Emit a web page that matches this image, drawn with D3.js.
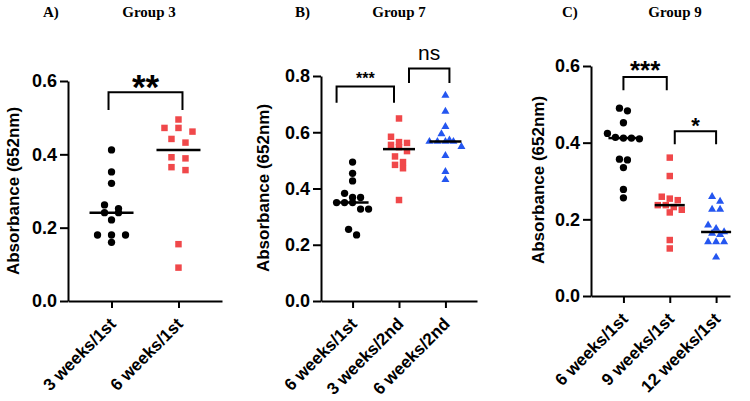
<!DOCTYPE html>
<html>
<head>
<meta charset="utf-8">
<script src="https://cdn.jsdelivr.net/npm/d3@7"></script>
<style>
  body { margin: 0; background: #fff; }
  svg { display: block; }
</style>
</head>
<body>
<div id="chart"></div>
<script>
// ---- data ----
// Panel A, Group 3
let groupsA = ["3 weeks/1st", "6 weeks/1st"];
let ticksA = [0.0, 0.2, 0.4, 0.6];
let a_3wk1st = [0.412, 0.352, 0.321, 0.262, 0.252, 0.241, 0.241, 0.221, 0.180, 0.180, 0.180, 0.160];
let a_6wk1st = [0.495, 0.472, 0.472, 0.462, 0.442, 0.432, 0.392, 0.389, 0.365, 0.357, 0.155, 0.091];

// Panel B, Group 7
let groupsB = ["6 weeks/1st", "3 weeks/2nd", "6 weeks/2nd"];
let ticksB = [0.0, 0.2, 0.4, 0.6, 0.8];
let b_6wk1st = [0.494, 0.454, 0.427, 0.383, 0.368, 0.368, 0.350, 0.350, 0.350, 0.327, 0.327, 0.255, 0.235];
let b_3wk2nd = [0.649, 0.584, 0.565, 0.562, 0.555, 0.547, 0.533, 0.514, 0.494, 0.484, 0.472, 0.359];
let b_6wk2nd = [0.731, 0.674, 0.620, 0.594, 0.572, 0.567, 0.567, 0.567, 0.567, 0.549, 0.517, 0.460, 0.431];

// Panel C, Group 9
let groupsC = ["6 weeks/1st", "9 weeks/1st", "12 weeks/1st"];
let ticksC = [0.0, 0.2, 0.4, 0.6];
let c_6wk1st = [0.490, 0.483, 0.452, 0.424, 0.414, 0.412, 0.412, 0.410, 0.357, 0.355, 0.335, 0.278, 0.256];
let c_9wk1st = [0.361, 0.313, 0.259, 0.254, 0.250, 0.237, 0.237, 0.232, 0.225, 0.218, 0.146, 0.124];
let c_12wk1st = [0.259, 0.247, 0.226, 0.226, 0.185, 0.176, 0.167, 0.163, 0.160, 0.141, 0.141, 0.141, 0.101];

// significance labels
let sigA = ["**"];
let sigB = ["***", "ns"];
let sigC = ["***", "*"];

let black = "#000", red = "#f0484a", blue = "#2456f0";

let panels = [
  {
    tag: "A)", tagX: 43, name: "Group 3", nameX: 149,
    cats: groupsA, series: [a_3wk1st, a_6wk1st],
    shapes: [d3.symbolCircle, d3.symbolSquare], colors: [black, red],
    ticks: ticksA, yMax: 0.6, left: 68, right: 222, top: 81, bottom: 301,
    padding: 0.65, align: 0.5, step: 14, medHalf: 22, labelX: 19, labelY: 191,
    brackets: [{a: 0, b: 1, top: 0.569, low: 0.521, dx: [-3, 4], text: sigA[0], fs: 35, weight: "bold", dy: 6.5}]
  },
  {
    tag: "B)", tagX: 295, name: "Group 7", nameX: 399,
    cats: groupsB, series: [b_6wk1st, b_3wk2nd, b_6wk2nd],
    shapes: [d3.symbolCircle, d3.symbolSquare, d3.symbolTriangle], colors: [black, red, blue],
    ticks: ticksB, yMax: 0.8, left: 321, right: 477, top: 76, bottom: 301,
    padding: 0.68, align: 0.5, step: 8, medHalf: 16, labelX: 269, labelY: 188,
    brackets: [
      {a: 0, b: 1, top: 0.763, low: 0.705, dx: [-16, -5], text: sigB[0], fs: 16, weight: "bold", dy: -2},
      {a: 1, b: 2, top: 0.827, low: 0.775, dx: [10, 4], text: sigB[1], fs: 21, weight: "normal", dy: -8.5}
    ]
  },
  {
    tag: "C)", tagX: 562, name: "Group 9", nameX: 675,
    cats: groupsC, series: [c_6wk1st, c_9wk1st, c_12wk1st],
    shapes: [d3.symbolCircle, d3.symbolSquare, d3.symbolTriangle], colors: [black, red, blue],
    ticks: ticksC, yMax: 0.6, left: 591, right: 730, top: 66, bottom: 296,
    padding: 0.5, align: 0.7, step: 8, medHalf: 15, labelX: 544, labelY: 180,
    brackets: [
      {a: 0, b: 1, top: 0.571, low: 0.537, dx: [0, -3], text: sigC[0], fs: 26, weight: "bold", dy: 2},
      {a: 1, b: 2, top: 0.430, low: 0.396, dx: [5, 0], text: sigC[1], fs: 22, weight: "bold", dy: 2}
    ]
  }
];

let svg = d3.select("#chart").append("svg")
  .attr("width", 750)
  .attr("height", 401);

// spread points that share a row sideways, like a scatter dot plot
function spread(values, y, step, gap) {
  let pts = values.map(function(v) { return {v: v, py: y(v)}; })
    .sort(function(a, b) { return a.py - b.py; });
  let rows = [], cur = null;
  pts.forEach(function(p) {
    if (!cur || p.py - cur[0].py >= gap) { cur = [p]; rows.push(cur); }
    else cur.push(p);
  });
  rows.forEach(function(r) {
    r.forEach(function(p, i) { p.dx = (i - (r.length - 1) / 2) * step; });
  });
  return pts;
}

function drawPanel(p) {
  let g = svg.append("g");

  let y = d3.scaleLinear().domain([0, p.yMax]).range([p.bottom, p.top]);
  let x = d3.scalePoint().domain(p.cats).range([p.left, p.right])
    .padding(p.padding).align(p.align);

  // titles
  g.append("text").attr("x", p.tagX).attr("y", 17)
    .attr("font-family", "Liberation Serif, Times New Roman, serif")
    .attr("font-weight", "bold").attr("font-size", 15).text(p.tag);
  g.append("text").attr("x", p.nameX).attr("y", 17)
    .attr("text-anchor", "middle")
    .attr("font-family", "Liberation Serif, Times New Roman, serif")
    .attr("font-weight", "bold").attr("font-size", 15).text(p.name);

  // y axis
  let yAxis = g.append("g")
    .attr("transform", "translate(" + p.left + ",0)")
    .call(d3.axisLeft(y).tickValues(p.ticks).tickFormat(d3.format(".1f"))
      .tickSize(8).tickSizeOuter(0).tickPadding(3));
  yAxis.selectAll("path, line").attr("stroke", "#000").attr("stroke-width", 2);
  yAxis.selectAll("text")
    .attr("font-family", "Liberation Sans, Arial, sans-serif")
    .attr("font-weight", "bold").attr("font-size", 18).attr("fill", "#000");

  // x axis
  let xAxis = g.append("g")
    .attr("transform", "translate(0," + p.bottom + ")")
    .call(d3.axisBottom(x).tickSize(7).tickSizeOuter(0));
  xAxis.selectAll("path, line").attr("stroke", "#000").attr("stroke-width", 2);
  xAxis.selectAll("text")
    .attr("x", 0).attr("y", 0).attr("dy", 0)
    .attr("transform", "translate(5,24) rotate(-45)")
    .attr("text-anchor", "end")
    .attr("font-family", "Liberation Sans, Arial, sans-serif")
    .attr("font-weight", "bold").attr("font-size", 17).attr("fill", "#000");

  // axis title
  g.append("text")
    .attr("transform", "translate(" + p.labelX + "," + p.labelY + ") rotate(-90)")
    .attr("text-anchor", "middle")
    .attr("font-family", "Liberation Sans, Arial, sans-serif")
    .attr("font-weight", "bold").attr("font-size", 17)
    .text("Absorbance (652nm)");

  // points and medians
  p.series.forEach(function(vals, i) {
    let cx = x(p.cats[i]);
    let pts = spread(vals, y, p.step, 7);
    g.selectAll(null).data(pts).enter().append("path")
      .attr("d", d3.symbol().type(p.shapes[i]).size(p.shapes[i] === d3.symbolTriangle ? 28 : 42))
      .attr("transform", function(d) { return "translate(" + (cx + d.dx) + "," + d.py + ")"; })
      .attr("fill", p.colors[i]);

    let med = d3.median(vals);
    g.append("line")
      .attr("x1", cx - p.medHalf).attr("x2", cx + p.medHalf)
      .attr("y1", y(med)).attr("y2", y(med))
      .attr("stroke", "#000").attr("stroke-width", 2.5);
  });

  // significance brackets
  p.brackets.forEach(function(b) {
    let x0 = x(p.cats[b.a]) + b.dx[0], x1 = x(p.cats[b.b]) + b.dx[1];
    let yt = y(b.top), yl = y(b.low);
    g.append("path")
      .attr("d", "M" + x0 + "," + yl + "V" + yt + "H" + x1 + "V" + yl)
      .attr("fill", "none").attr("stroke", "#000").attr("stroke-width", 2);
    g.append("text")
      .attr("x", (x0 + x1) / 2).attr("y", yt + b.dy)
      .attr("text-anchor", "middle")
      .attr("font-family", "Liberation Sans, Arial, sans-serif")
      .attr("font-weight", b.weight).attr("font-size", b.fs)
      .text(b.text);
  });
}

panels.forEach(drawPanel);
</script>
</body>
</html>
